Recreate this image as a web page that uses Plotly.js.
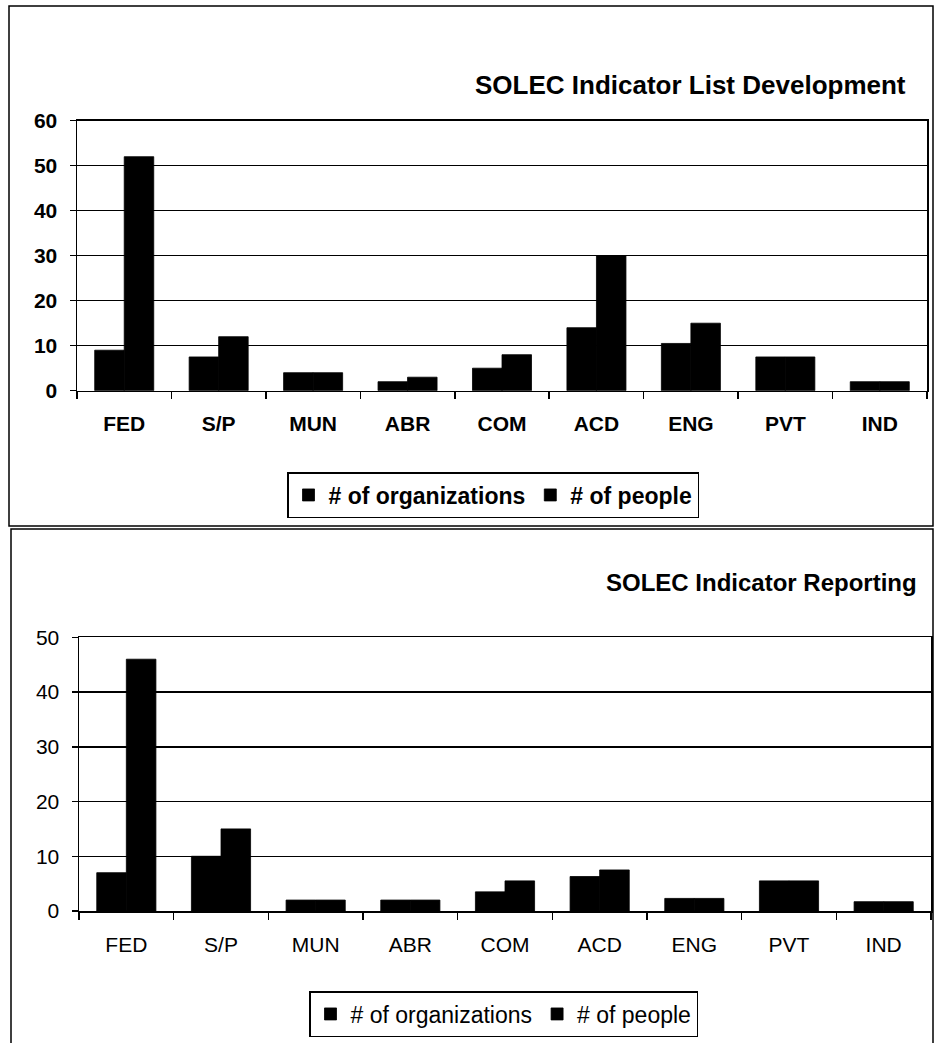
<!DOCTYPE html>
<html>
<head>
<meta charset="utf-8">
<script src="https://cdn.plot.ly/plotly-3.0.1.min.js"></script>
<style>
  html, body { margin: 0; padding: 0; background: #ffffff; }
  #chart { width: 935px; height: 1043px; }
</style>
</head>
<body>
<div id="chart"></div>
<script>
// ---- Data ----
const categories = ["FED", "S/P", "MUN", "ABR", "COM", "ACD", "ENG", "PVT", "IND"];
const seriesNames = ["# of organizations", "# of people"];

// SOLEC Indicator List Development
const devOrganizations = [9, 7.5, 4, 2, 5, 14, 10.5, 7.5, 2];
const devPeople        = [52, 12, 4, 3, 8, 30, 15, 7.5, 2];

// SOLEC Indicator Reporting
const repOrganizations = [7, 10, 2, 2, 3.5, 6.3, 2.3, 5.5, 1.7];
const repPeople        = [46, 15, 2, 2, 5.5, 7.5, 2.3, 5.5, 1.7];

const titles = ["SOLEC Indicator List Development", "SOLEC Indicator Reporting"];
const devTicks = [0, 10, 20, 30, 40, 50, 60];
const repTicks = [0, 10, 20, 30, 40, 50];

// ---- Styling ----
const FONT = "'Liberation Sans', Arial, Helvetica, sans-serif";
const W = 935, H = 1043;
const px = v => v / W;
const py = v => 1 - v / H;

function bar(x, y, name, xa, ya, legend, showlegend) {
  return {
    type: "bar", x: x, y: y, name: name,
    xaxis: xa, yaxis: ya, legend: legend, showlegend: showlegend,
    marker: { color: "#000000", line: { width: 0.8, color: "#000000" } },
    hoverinfo: "skip"
  };
}

const traces = [
  bar(categories, devOrganizations, seriesNames[0], "x", "y", "legend", true),
  bar(categories, devPeople, seriesNames[1], "x", "y", "legend", true),
  bar(categories, repOrganizations, seriesNames[0], "x2", "y2", "legend2", true),
  bar(categories, repPeople, seriesNames[1], "x2", "y2", "legend2", true)
];

function xAxis(domain, anchor, bold) {
  return {
    domain: domain, anchor: anchor, type: "category",
    categoryorder: "array", categoryarray: categories,
    range: [-0.5, categories.length - 0.5],
    tickson: "boundaries", ticks: "outside", ticklen: 7, tickwidth: 1.5, tickcolor: "#000",
    showline: true, linecolor: "#000", linewidth: 1.5, mirror: true,
    showgrid: false, zeroline: false,
    ticklabelstandoff: 14,
    tickfont: { family: FONT, size: 21, color: "#000", weight: bold ? "bold" : "normal" },
    fixedrange: true
  };
}
function xOverlay(overlay, domain, anchor) {
  return {
    overlaying: overlay, domain: domain, anchor: anchor, type: "category",
    categoryorder: "array", categoryarray: categories,
    range: [-0.5, categories.length - 0.5],
    tickson: "boundaries", ticks: "inside", ticklen: 7, tickwidth: 1.5, tickcolor: "#000",
    showticklabels: false, showline: false, showgrid: false, zeroline: false,
    fixedrange: true
  };
}
function yAxis(domain, anchor, ticks, bold) {
  return {
    domain: domain, anchor: anchor,
    range: [0, ticks[ticks.length - 1]],
    tickmode: "array", tickvals: ticks, ticktext: ticks.map(String),
    ticks: "outside", ticklen: 6, tickwidth: 1.5, tickcolor: "#000",
    showline: true, linecolor: "#000", linewidth: 1.5, mirror: true,
    showgrid: true, gridcolor: "#000", gridwidth: 1.5, zeroline: false,
    ticklabelstandoff: 8,
    tickfont: { family: FONT, size: 21, color: "#000", weight: bold ? "bold" : "normal" },
    fixedrange: true
  };
}

const topX = [px(77), px(927)], topY = [py(390.7), py(120.7)];
const botX = [px(79), px(931)], botY = [py(911), py(637.3)];

const layout = {
  width: W, height: H,
  margin: { l: 0, r: 0, t: 0, b: 0 },
  paper_bgcolor: "#ffffff", plot_bgcolor: "#ffffff",
  font: { family: FONT, color: "#000" },
  barmode: "group", bargap: 0.375, bargroupgap: 0,
  xaxis: xAxis(topX, "y", true),
  yaxis: yAxis(topY, "x", devTicks, true),
  xaxis2: xAxis(botX, "y2", false),
  yaxis2: yAxis(botY, "x2", repTicks, false),
  xaxis3: xOverlay("x", topX, "y"),
  xaxis4: xOverlay("x2", botX, "y2"),
  legend: {
    orientation: "h", x: px(287), y: py(472), xanchor: "left", yanchor: "top",
    bordercolor: "#000", borderwidth: 1.5, bgcolor: "#fff",
    font: { family: FONT, size: 23, color: "#000", weight: "bold" },
    itemclick: false, itemdoubleclick: false, traceorder: "normal"
  },
  legend2: {
    orientation: "h", x: px(309), y: py(991), xanchor: "left", yanchor: "top",
    bordercolor: "#000", borderwidth: 1.5, bgcolor: "#fff",
    font: { family: FONT, size: 23, color: "#000" },
    itemclick: false, itemdoubleclick: false, traceorder: "normal"
  },
  annotations: [
    { text: titles[0], xref: "paper", yref: "paper", x: px(908), y: py(85),
      xanchor: "right", yanchor: "middle", showarrow: false,
      font: { family: FONT, size: 26, color: "#000", weight: "bold" } },
    { text: titles[1], xref: "paper", yref: "paper", x: px(919), y: py(582),
      xanchor: "right", yanchor: "middle", showarrow: false,
      font: { family: FONT, size: 24, color: "#000", weight: "bold" } }
  ],
  shapes: [
    { type: "rect", xref: "paper", yref: "paper", x0: px(9), x1: px(933), y0: py(526), y1: py(6),
      line: { color: "#000", width: 1.5 }, fillcolor: "rgba(0,0,0,0)", layer: "below" },
    { type: "rect", xref: "paper", yref: "paper", x0: px(11), x1: px(933), y0: py(1050), y1: py(529),
      line: { color: "#000", width: 1.5 }, fillcolor: "rgba(0,0,0,0)", layer: "below" }
  ]
};

Plotly.newPlot("chart", traces, layout, { staticPlot: true, displayModeBar: false });
</script>
</body>
</html>
